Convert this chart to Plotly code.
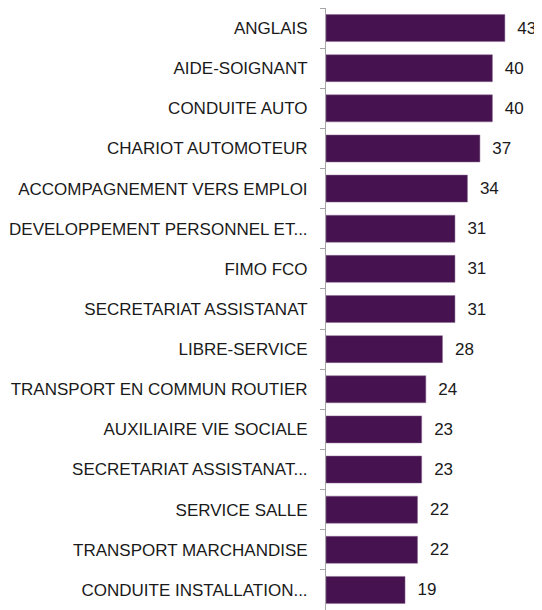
import plotly.graph_objects as go

categories = ["ANGLAIS", "AIDE-SOIGNANT", "CONDUITE AUTO", "CHARIOT AUTOMOTEUR",
              "ACCOMPAGNEMENT VERS EMPLOI", "DEVELOPPEMENT PERSONNEL ET...", "FIMO FCO",
              "SECRETARIAT ASSISTANAT", "LIBRE-SERVICE", "TRANSPORT EN COMMUN ROUTIER",
              "AUXILIAIRE VIE SOCIALE", "SECRETARIAT ASSISTANAT...", "SERVICE SALLE",
              "TRANSPORT MARCHANDISE", "CONDUITE INSTALLATION..."]
values = [43, 40, 40, 37, 34, 31, 31, 31, 28, 24, 23, 23, 22, 22, 19]

fig = go.Figure(go.Bar(
    y=categories, x=values, orientation="h",
    marker=dict(color="#461250", line=dict(color="#8a6a90", width=0.5)),
    text=["  " + str(v) for v in values], textposition="outside",
    constraintext="none",
    textfont=dict(size=17, color="#1a1a1a", family="Liberation Sans"), cliponaxis=False,
))
fig.update_layout(
    width=534, height=602,
    margin=dict(l=318, r=8, t=0, b=0),
    plot_bgcolor="white", paper_bgcolor="white",
    font=dict(family="Liberation Sans", size=17, color="#1a1a1a"),
    bargap=0.327, showlegend=False,
    xaxis=dict(range=[0, 50], visible=False),
    yaxis=dict(autorange="reversed", showline=True, linecolor="#a6a6a6", linewidth=1,
               ticks="outside", tickson="boundaries", ticklen=5, tickcolor="#a6a6a6",
               showgrid=False, tickfont=dict(size=17), automargin=False,
               ticklabelstandoff=14),
)
fig.write_html("out.html")
